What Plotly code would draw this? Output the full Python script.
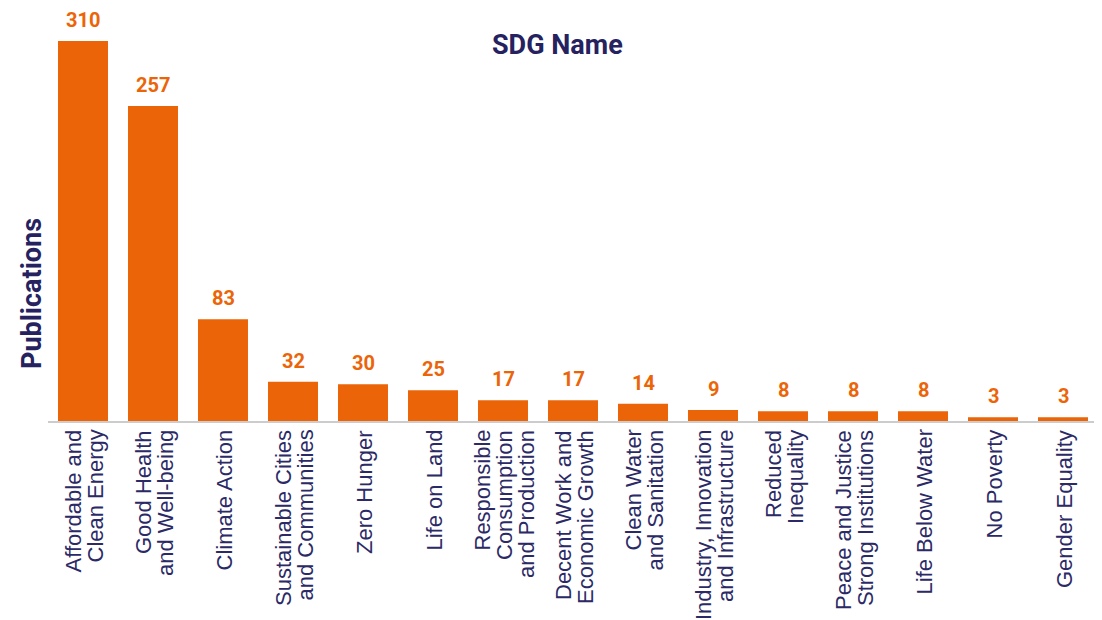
import plotly.graph_objects as go

categories = [
    "Affordable and<br>Clean Energy",
    "Good Health<br>and Well-being",
    "Climate Action",
    "Sustainable Cities<br>and Communities",
    "Zero Hunger",
    "Life on Land",
    "Responsible<br>Consumption<br>and Production",
    "Decent Work and<br>Economic Growth",
    "Clean Water<br>and Sanitation",
    "Industry, Innovation<br>and Infrastructure",
    "Reduced<br>Inequality",
    "Peace and Justice<br>Strong Institutions",
    "Life Below Water",
    "No Poverty",
    "Gender Equality",
]
publications = [310, 257, 83, 32, 30, 25, 17, 17, 14, 9, 8, 8, 8, 3, 3]

BAR = "#EB6508"
NAVY = "#25225F"
LABEL = "#2B2A66"
LINE_PITCH = 22

fig = go.Figure()
fig.add_trace(go.Bar(
    x=categories, y=publications, marker_color=BAR, marker_line_width=0,
    hoverinfo="y",
))

for c, v in zip(categories, publications):
    fig.add_annotation(
        x=c, y=v, text=f"<b>{v}</b>", showarrow=False, yanchor="bottom", yshift=7,
        font=dict(family="Roboto", size=20, color=BAR),
    )
    # category label: each line as its own rotated text, tighter line spacing
    lines = c.split("<br>")
    n = len(lines)
    for j, line in enumerate(lines):
        fig.add_annotation(
            x=c, xref="x", yref="paper", y=0, yanchor="top", xanchor="center",
            yshift=-7, xshift=(j - (n - 1) / 2) * LINE_PITCH + 1,
            text=line, textangle=-90, showarrow=False,
            font=dict(family="Liberation Sans, Arial", size=22, color=LABEL),
        )

fig.add_annotation(
    xref="paper", yref="paper", x=0.4848, y=0.915, xanchor="center", yanchor="middle",
    text="<b>SDG Name</b>", showarrow=False,
    font=dict(family="Roboto", size=27, color=NAVY),
)
fig.add_annotation(
    xref="paper", yref="paper", x=0, y=0.309, xshift=-16, xanchor="center", yanchor="middle",
    text="<b>Publications</b>", textangle=-90, showarrow=False,
    font=dict(family="Roboto", size=27, color=NAVY),
)

fig.update_layout(
    width=1094, height=612,
    margin=dict(l=40, r=4, t=2, b=199, autoexpand=False),
    plot_bgcolor="white", paper_bgcolor="white",
    bargap=0.286, showlegend=False,
    xaxis=dict(
        showticklabels=False, showgrid=False, showline=True, linecolor="#CCCCCC",
        linewidth=2, ticks="", automargin=False,
    ),
    yaxis=dict(
        range=[0, 335.3], showgrid=False, showticklabels=False, zeroline=False,
        ticks="", automargin=False,
    ),
)

fig.write_html("out.html")
